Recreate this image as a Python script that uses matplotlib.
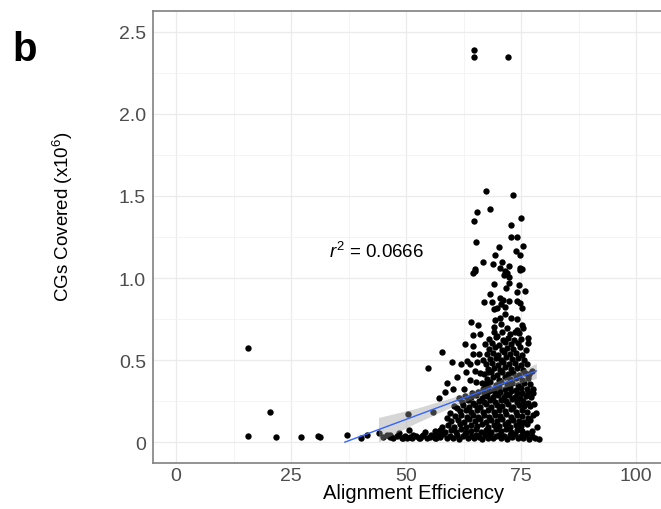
import matplotlib
matplotlib.use("Agg")
import matplotlib.pyplot as plt
from matplotlib.ticker import MultipleLocator

plt.rcParams["font.family"] = ["Liberation Sans", "DejaVu Sans"]
plt.rcParams["mathtext.fontset"] = "custom"
plt.rcParams["mathtext.rm"] = "Liberation Sans"
plt.rcParams["mathtext.it"] = "Liberation Sans:italic"

# points: (alignment efficiency %, CGs covered x1e6)
top_pts = [(64.8, 2.39), (64.8, 2.345), (72.1, 2.346)]

left_pts = [
    (15.6, 0.575), (20.4, 0.186), (15.6, 0.038), (21.7, 0.032), (27.2, 0.032),
    (30.8, 0.038), (31.2, 0.035), (37.2, 0.044), (40.2, 0.028), (41.6, 0.046),
    (44.2, 0.058), (46.4, 0.036), (46.6, 0.045), (48.5, 0.055), (49.3, 0.030),
    (49.8, 0.040), (50.3, 0.028), (50.8, 0.035), (51.2, 0.030), (50.5, 0.172),
    (50.7, 0.075), (52.2, 0.040), (53.0, 0.030), (53.6, 0.045), (54.1, 0.065),
    (54.8, 0.450), (55.8, 0.186), (55.3, 0.035), (56.0, 0.040), (56.6, 0.030),
    (57.1, 0.268), (57.7, 0.553), (57.2, 0.045),
]

upper_pts = [
    (67.3, 1.527), (73.3, 1.506), (68.3, 1.423), (65.4, 1.403), (64.8, 1.346),
    (75.0, 1.364), (72.8, 1.324), (72.8, 1.253), (74.0, 1.247), (65.1, 1.218),
    (75.4, 1.196), (70.2, 1.188), (73.8, 1.164), (74.7, 1.143), (69.4, 1.139),
    (66.7, 1.097), (68.9, 1.083), (70.9, 1.095), (72.3, 1.072), (70.4, 1.062),
    (74.8, 1.064), (75.2, 1.058), (65.0, 1.058), (64.6, 1.030), (65.0, 1.046),
    (71.2, 1.018), (71.9, 1.034), (72.3, 1.004), (71.5, 1.044), (74.8, 1.050),
    (69.0, 0.965), (72.3, 0.973), (74.6, 0.959), (71.7, 0.939), (68.3, 0.906),
    (74.0, 0.916), (75.9, 0.922), (70.4, 0.876), (71.0, 0.866), (67.0, 0.855),
    (68.7, 0.855), (72.4, 0.861), (74.0, 0.861), (74.8, 0.849), (70.6, 0.841),
    (71.5, 0.827), (69.7, 0.817), (69.2, 0.809), (75.2, 0.819), (71.6, 0.779),
    (70.4, 0.758), (72.8, 0.758), (69.3, 0.746), (74.2, 0.750), (64.1, 0.734),
    (65.6, 0.714), (69.2, 0.705), (70.6, 0.718), (71.9, 0.694), (74.1, 0.685),
    (75.2, 0.714), (75.5, 0.694), (69.0, 0.669), (70.8, 0.673), (72.6, 0.659),
    (73.7, 0.670), (74.5, 0.665), (64.6, 0.653), (66.1, 0.657), (76.4, 0.636),
    (69.7, 0.648),
]

mid_pts = [
    (59.9, 0.490), (62.8, 0.598), (62.0, 0.476), (64.5, 0.588), (64.6, 0.537),
    (65.9, 0.537), (63.2, 0.496), (63.9, 0.476), (65.4, 0.487), (66.8, 0.503),
    (64.9, 0.436), (66.1, 0.420), (63.0, 0.426), (63.9, 0.381), (65.2, 0.369),
    (66.4, 0.361), (60.3, 0.328), (62.5, 0.324), (67.9, 0.430), (76.4, 0.608),
    (77.3, 0.436), (77.5, 0.324), (61.0, 0.400), (59.0, 0.360), (58.5, 0.305),
    (68.0, 0.628), (69.6, 0.640), (71.0, 0.622), (72.2, 0.636), (73.5, 0.625), (75.0, 0.631),
    (67.2, 0.598), (68.7, 0.606), (70.3, 0.592), (71.6, 0.609), (72.9, 0.596), (74.3, 0.604),
    (68.1, 0.566), (69.4, 0.578), (70.8, 0.562), (72.0, 0.575), (73.3, 0.569), (74.8, 0.580),
    (76.0, 0.563),
    (67.5, 0.538), (68.9, 0.546), (70.0, 0.532), (71.2, 0.549), (72.5, 0.536), (73.8, 0.544),
    (75.2, 0.531),
    (68.2, 0.508), (69.5, 0.516), (70.7, 0.502), (71.8, 0.519), (73.1, 0.506), (74.4, 0.514),
    (75.7, 0.501),
    (67.3, 0.478), (68.6, 0.486), (69.9, 0.472), (71.1, 0.489), (72.3, 0.476), (73.6, 0.484),
    (74.9, 0.471), (76.3, 0.480),
    (67.9, 0.448), (69.2, 0.456), (70.4, 0.442), (71.6, 0.459), (72.8, 0.446), (74.1, 0.454),
    (75.5, 0.443),
    (67.0, 0.418), (68.4, 0.426), (69.7, 0.412), (70.9, 0.429), (72.1, 0.416), (73.3, 0.424),
    (74.6, 0.411), (75.9, 0.422), (76.8, 0.414),
    (67.6, 0.388), (68.9, 0.396), (70.2, 0.382), (71.4, 0.399), (72.6, 0.386), (73.9, 0.394),
    (75.2, 0.381), (76.5, 0.392),
    (67.1, 0.358), (68.3, 0.366), (69.5, 0.352), (70.7, 0.369), (71.9, 0.356), (73.1, 0.364),
    (74.4, 0.351), (75.7, 0.362), (77.0, 0.355),
    (66.7, 0.328), (67.9, 0.336), (69.0, 0.322), (70.2, 0.339), (71.4, 0.326), (72.6, 0.334),
    (73.8, 0.321), (75.0, 0.332), (76.2, 0.325),
    (64.3, 0.302), (65.6, 0.310), (66.9, 0.298), (68.1, 0.312), (69.3, 0.300), (70.5, 0.308),
    (71.7, 0.296), (72.9, 0.311), (74.1, 0.303), (75.3, 0.299), (76.6, 0.309), (77.6, 0.301),
]

low_pts = [
    (44.9, 0.035), (45.9, 0.048), (47.2, 0.028), (48.0, 0.042), (49.1, 0.026), (51.6, 0.044),
    (52.7, 0.027), (53.4, 0.038), (54.6, 0.030), (55.5, 0.047), (56.3, 0.025), (57.4, 0.036),
    (58.1, 0.049), (58.8, 0.027), (59.6, 0.040), (60.3, 0.030), (61.0, 0.046), (61.6, 0.024),
    (62.3, 0.037), (62.9, 0.050), (63.5, 0.028), (64.1, 0.041), (64.7, 0.026), (65.3, 0.045),
    (65.9, 0.033), (66.5, 0.022), (67.1, 0.043), (67.7, 0.030), (68.3, 0.049), (68.9, 0.025),
    (69.5, 0.038), (70.1, 0.047), (70.7, 0.027), (71.3, 0.040), (71.9, 0.024), (72.5, 0.045),
    (73.1, 0.032), (73.7, 0.050), (74.3, 0.026), (74.9, 0.041), (75.5, 0.030), (76.1, 0.046),
    (76.7, 0.023), (77.3, 0.038), (78.0, 0.028), (78.8, 0.024),
    (56.2, 0.068), (57.3, 0.078), (58.5, 0.062), (59.7, 0.074), (60.8, 0.065), (61.9, 0.080),
    (63.0, 0.063), (64.1, 0.072), (65.2, 0.082), (66.3, 0.066), (67.4, 0.075), (68.5, 0.061),
    (69.6, 0.079), (70.7, 0.069), (71.8, 0.083), (72.9, 0.064), (74.0, 0.076), (75.1, 0.068),
    (76.2, 0.057), (77.4, 0.072),
    (57.8, 0.092), (59.1, 0.104), (60.4, 0.097), (61.7, 0.110), (63.0, 0.094), (64.2, 0.106),
    (65.4, 0.099), (66.6, 0.112), (67.8, 0.095), (69.0, 0.108), (70.2, 0.100), (71.4, 0.114),
    (72.6, 0.096), (73.8, 0.107), (75.0, 0.098), (76.2, 0.110), (78.4, 0.091),
    (59.8, 0.128), (61.2, 0.137), (62.5, 0.124), (63.7, 0.140), (64.9, 0.130), (66.1, 0.142),
    (67.3, 0.126), (68.5, 0.138), (69.7, 0.131), (70.9, 0.145), (72.1, 0.127), (73.3, 0.139),
    (74.5, 0.133), (75.7, 0.122), (77.0, 0.136),
    (58.8, 0.148), (60.6, 0.158), (62.0, 0.165), (63.3, 0.152), (64.5, 0.168), (65.7, 0.157),
    (66.9, 0.170), (68.1, 0.155), (69.3, 0.166), (70.5, 0.160), (71.7, 0.172), (72.9, 0.154),
    (74.1, 0.167), (75.3, 0.158), (76.6, 0.150), (77.6, 0.165),
    (59.6, 0.182), (61.8, 0.190), (63.0, 0.197), (64.2, 0.185), (65.5, 0.200), (66.7, 0.188),
    (67.9, 0.196), (69.1, 0.183), (70.3, 0.199), (71.5, 0.191), (72.7, 0.203), (73.9, 0.186),
    (75.1, 0.195), (76.3, 0.184), (78.2, 0.182),
    (60.4, 0.223), (61.0, 0.212), (62.4, 0.226), (63.6, 0.214), (64.9, 0.229), (66.1, 0.218),
    (67.3, 0.231), (68.5, 0.216), (69.7, 0.227), (70.9, 0.220), (72.1, 0.233), (73.3, 0.215),
    (74.5, 0.228), (75.7, 0.219), (77.0, 0.224), (77.8, 0.233),
    (62.2, 0.246), (63.4, 0.257), (64.6, 0.243), (65.8, 0.255), (67.0, 0.248), (68.2, 0.260),
    (69.4, 0.244), (70.6, 0.256), (71.8, 0.250), (73.0, 0.262), (74.2, 0.245), (75.4, 0.254),
    (76.6, 0.241),
    (61.5, 0.272), (62.8, 0.283), (64.0, 0.276), (65.2, 0.288), (66.4, 0.271), (67.6, 0.285),
    (68.8, 0.278), (70.0, 0.290), (71.2, 0.274), (72.4, 0.286), (73.6, 0.279), (74.8, 0.268),
    (76.0, 0.282), (77.2, 0.275),
]

# linear fit and its confidence band
fit_x = [36.7, 78.3]
fit_y = [0.002, 0.435]
band_x = [44.0, 52.0, 60.0, 68.0, 78.3]
band_lo = [0.004, 0.116, 0.217, 0.306, 0.390]
band_hi = [0.152, 0.206, 0.273, 0.350, 0.480]

x_ticks = [0, 25, 50, 75, 100]
y_ticks = [0, 0.5, 1.0, 1.5, 2.0, 2.5]
y_tick_labels = ["0", "0.5", "1.0", "1.5", "2.0", "2.5"]

all_pts = top_pts + left_pts + upper_pts + mid_pts + low_pts
xs = [p[0] for p in all_pts]
ys = [p[1] for p in all_pts]

fig = plt.figure(figsize=(6.61, 5.10), dpi=100)
ax = fig.add_axes([153 / 661, 46 / 510, 508 / 661, 452 / 510])

ax.scatter(xs, ys, s=21, color="black", linewidths=0, zorder=3)
ax.fill_between(band_x, band_lo, band_hi, color="#999999", alpha=0.4, linewidth=0, zorder=4)
ax.plot(fit_x, fit_y, color="#3366FF", linewidth=1.0, zorder=5)

ax.text(33.3, 1.127, r"$\it{r}^{2}$ = 0.0666", fontsize=13.5, color="black", va="baseline")

ax.set_xlim(-5, 105.4)
ax.set_ylim(-0.125, 2.625)
ax.set_xticks(x_ticks)
ax.set_xticklabels([str(t) for t in x_ticks])
ax.set_yticks(y_ticks)
ax.set_yticklabels(y_tick_labels)
ax.xaxis.set_minor_locator(MultipleLocator(12.5))
ax.yaxis.set_minor_locator(MultipleLocator(0.25))
ax.grid(True, which="major", color="#EBEBEB", linewidth=0.9, zorder=0)
ax.grid(True, which="minor", color="#F3F3F3", linewidth=0.6, zorder=0)
ax.set_axisbelow(True)
ax.tick_params(which="both", length=0, labelsize=14, labelcolor="#4D4D4D")
ax.tick_params(axis="y", pad=5)
ax.tick_params(axis="x", pad=3)

for side in ["left", "bottom", "top"]:
    ax.spines[side].set_color("#808080")
    ax.spines[side].set_linewidth(1.2)
ax.spines["right"].set_visible(False)

ax.set_xlabel("Alignment Efficiency", fontsize=14.5, color="black")
ax.xaxis.set_label_coords(0.512, -0.045)
ax.set_ylabel(r"CGs Covered (x10$^{6}$)", fontsize=13.5, color="black")
ax.yaxis.set_label_coords(-0.154, 0.547)

fig.text(12 / 661, 1 - 50 / 510, "b", fontsize=29, fontweight="bold", va="center", ha="left")

fig.savefig("out.png", dpi=100)
